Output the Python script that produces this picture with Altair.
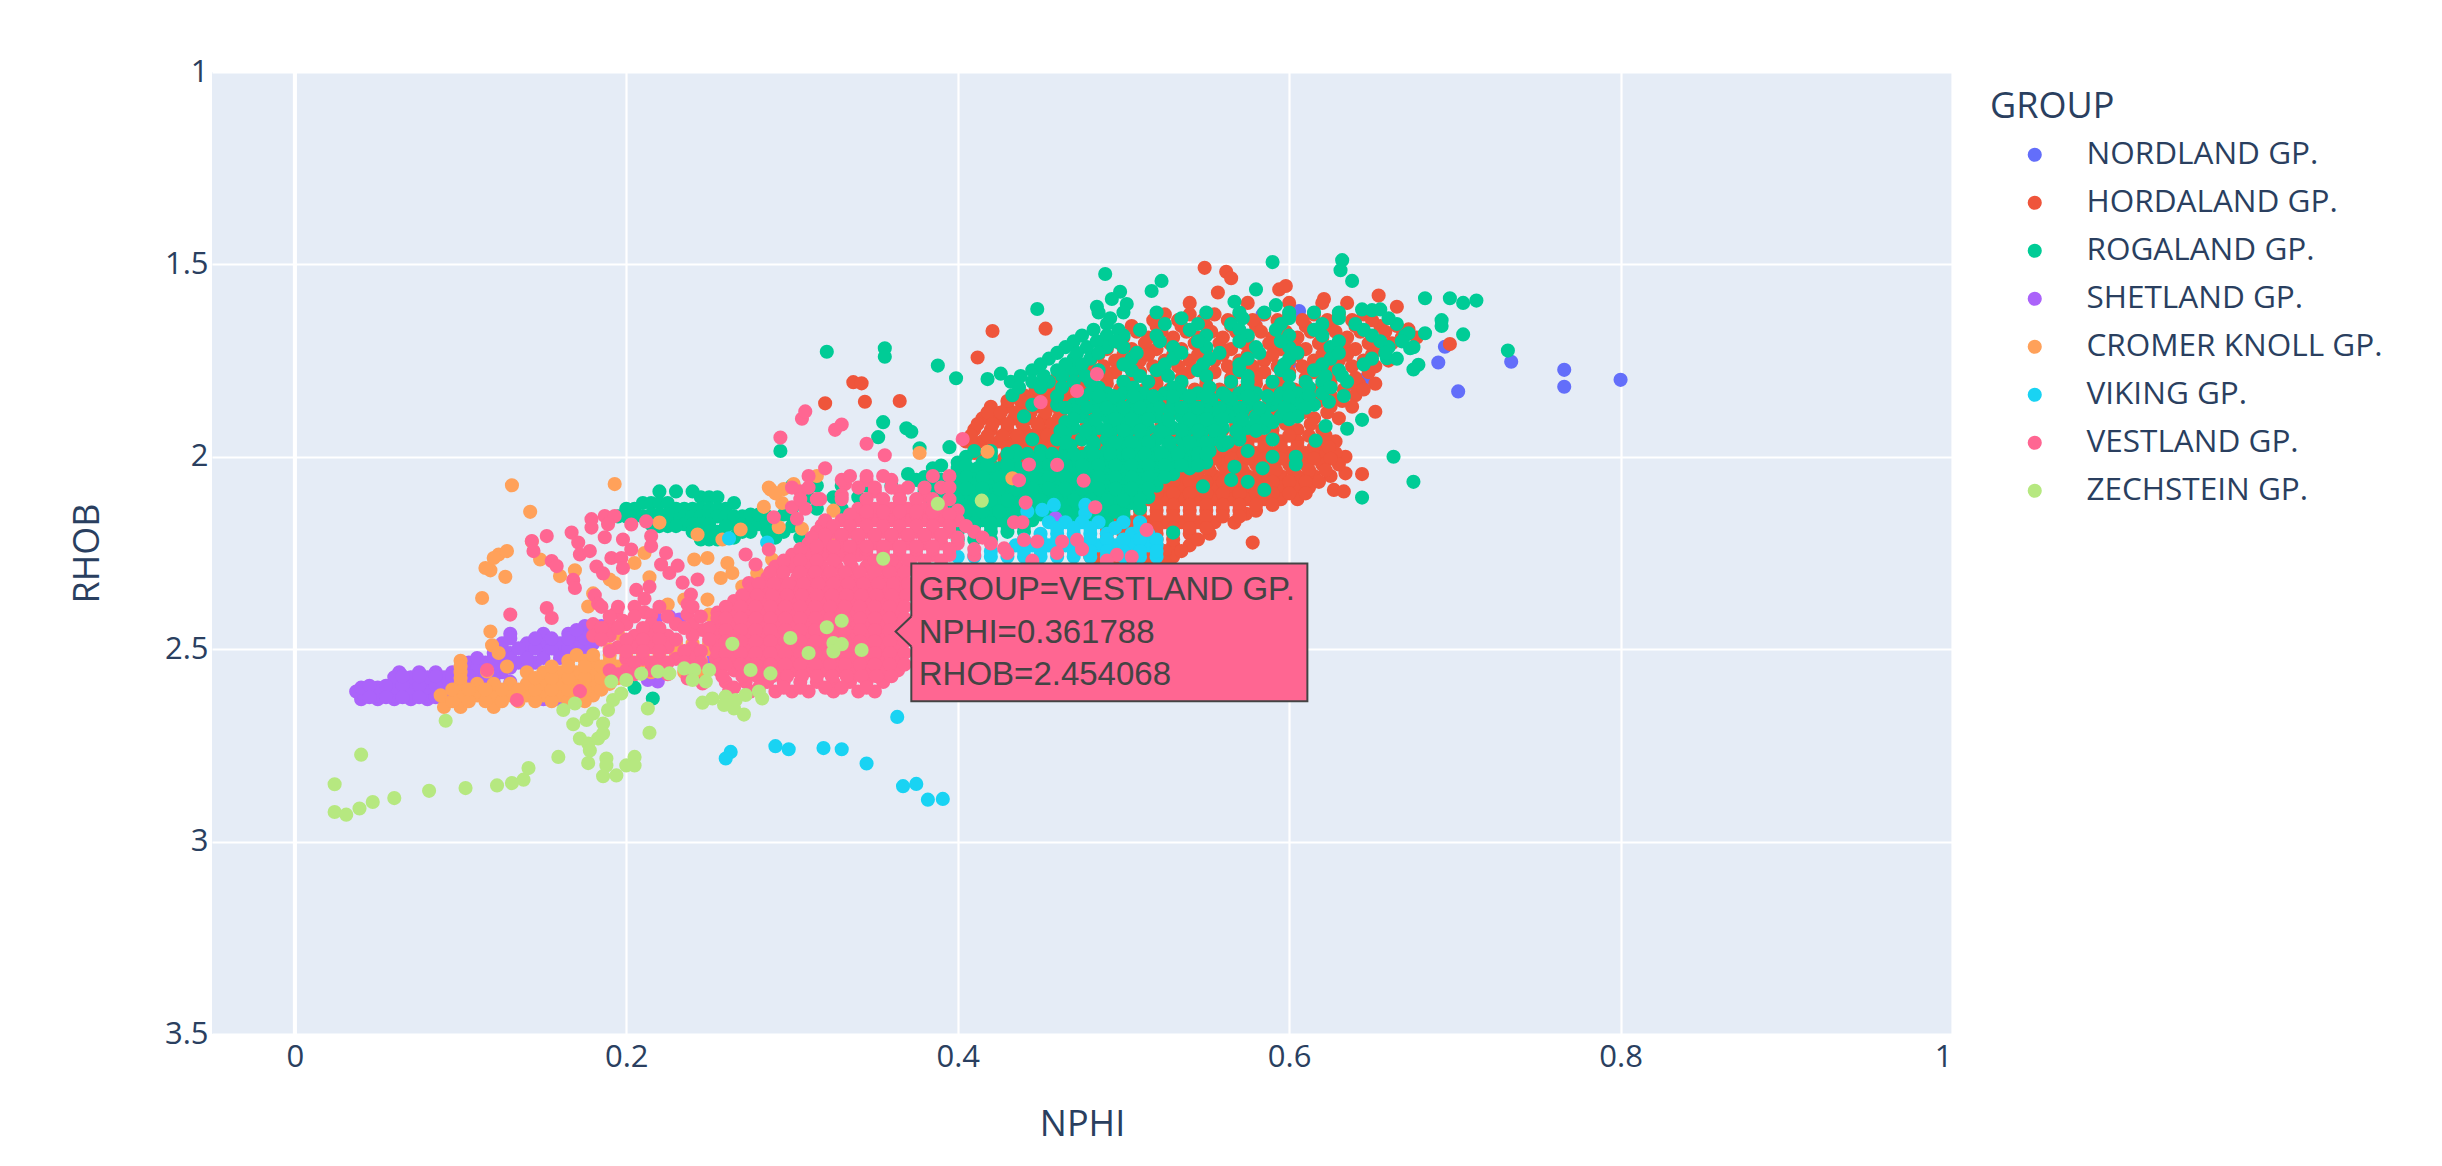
import altair as alt
import pandas as pd

GROUPS = ["NORDLAND GP.", "HORDALAND GP.", "ROGALAND GP.", "SHETLAND GP.",
          "CROMER KNOLL GP.", "VIKING GP.", "VESTLAND GP.", "ZECHSTEIN GP."]
COLORS = ["#636EFA", "#EF553B", "#00CC96", "#AB63FA", "#FFA15A", "#19D3F3", "#FF6692", "#B6E880"]
X_TICKS = [0, 0.2, 0.4, 0.6, 0.8, 1]
Y_TICKS = [1, 1.5, 2, 2.5, 3, 3.5]

NORDLAND_POINTS = [(.8,1.8),(.766,1.774),(.766,1.818),(.702,1.83),(.734,1.753),(.69,1.755),(.694,1.714),
    (.606,1.621),(.584,1.63),(.64,1.813),(.62,1.787),(.6,1.76),(.645,1.8)]

HORDALAND_POINTS = [(.549,1.509),(.562,1.519),(.565,1.536),(.557,1.573),(.594,1.565),(.598,1.556),(.621,1.59),
    (.654,1.581),(.665,1.61),(.421,1.673),(.453,1.667),(.412,1.742),(.337,1.806),(.342,1.809),(.32,1.861),
    (.344,1.857),(.365,1.855),(.652,1.883),(.642,1.809),(.697,1.707),(.672,1.669),(.634,2.0),(.644,2.045),
    (.634,2.043),(.627,2.086),(.633,2.09),(.578,2.223),(.567,2.171),(.574,2.148),(.365,2.11)]
HORDALAND_ROWS = {
    1.60: [.54,.575,.60,.62,.635],
    1.63: [.525,.54,.555,.57,.585,.60,.615,.63,.645],
    1.66: [.505,.52,.535,.55,.565,.58,.595,.61,.625,.64,.655,.665],
    1.69: [.50,.515,.53,.545,.56,.575,.59,.605,.62,.635,.65,.668,.677],
    1.72: [.49,.505,.52,.535,.55,.565,.58,.595,.61,.625,.64,.655],
    1.75: [.48,.495,.51,.525,.54,.555,.57,.585,.60,.615,.63,.645,.66],
    1.78: [.465,.48,.495,.51,.525,.54,.555,.57,.585,.60,.615,.63,.648],
    1.81: [.452,.462,.475,.49,.505,.52,.535,.55,.565,.58,.595,.61,.625,.64,.652],
    1.84: [.44,.45,.46,.47,.48,.49,.505,.52,.535,.55,.565,.58,.595,.61,.625,.64],
    1.87: [.42,.43,.44,.45,.46,.47,.48,.49,.505,.52,.535,.55,.565,.58,.595,.61,.625,.638],
    1.90: [.415,.425,.434,.443,.452,.461,.47,.48,.495,.51,.525,.54,.555,.57,.585,.60,.615,.63],
    1.93: [.41,.42,.43,.44,.45,.46,.47,.485,.50,.515,.53,.545,.56,.575,.59,.605,.62],
    1.96: [.405,.415,.425,.434,.443,.452,.461,.47,.485,.50,.515,.53,.545,.56,.575,.585,.595,.605,.618,.628],
    1.99: [.41,.42,.43,.44,.45,.46,.475,.49,.505,.52,.535,.55,.56,.57,.58,.59,.60,.61,.62,.628],
    2.02: [.42,.435,.45,.465,.48,.495,.51,.525,.54,.55,.56,.57,.58,.59,.60,.61,.62,.63],
    2.05: [.44,.46,.48,.50,.515,.525,.535,.545,.555,.565,.575,.585,.595,.605,.615,.625],
    2.08: [.50,.515,.525,.535,.545,.555,.565,.575,.585,.595,.605,.612],
    2.11: [.505,.515,.525,.535,.545,.555,.565,.575,.585,.595,.605],
    2.14: [.50,.51,.52,.53,.54,.55,.56,.57,.58],
    2.17: [.495,.505,.515,.525,.535,.545,.555],
    2.20: [.49,.50,.51,.52,.53,.54,.552],
    2.23: [.49,.50,.51,.52,.53,.54],
    2.26: [.48,.49,.50,.51,.52,.53],
    2.29: [.49,.50,.51,.52],
}
HORDALAND_FILL = {
    1.645: [.518,.533,.548,.563,.578,.593,.608,.623,.638,.65],
    1.675: [.508,.523,.538,.553,.568,.583,.598,.613,.628,.643,.658,.672],
    1.705: [.498,.513,.528,.543,.558,.573,.588,.603,.618,.633,.648,.662],
    1.735: [.485,.50,.515,.53,.545,.56,.575,.59,.605,.62,.635,.65],
    1.765: [.473,.488,.503,.518,.533,.548,.563,.578,.593,.608,.623,.638,.652],
    1.795: [.46,.475,.49,.505,.52,.535,.55,.565,.58,.595,.61,.625,.64],
    1.825: [.447,.456,.465,.475,.485,.498,.513,.528,.543,.558,.573,.588,.603,.618,.633,.645],
    1.855: [.43,.438,.446,.455,.464,.473,.483,.498,.513,.528,.543,.558,.573,.588,.603,.618,.632],
    1.885: [.418,.426,.435,.444,.453,.462,.472,.488,.503,.518,.533,.548,.563,.578,.593,.608,.623],
    1.915: [.412,.421,.43,.439,.448,.457,.466,.478,.493,.508,.523,.538,.553,.568,.583,.598,.613],
    1.945: [.408,.418,.427,.436,.445,.454,.463,.478,.493,.508,.523,.538,.553,.568,.58,.59,.60,.612,.622],
    1.975: [.41,.42,.43,.438,.447,.456,.468,.483,.498,.513,.528,.543,.555,.565,.575,.585,.595,.605,.615,.624],
    2.005: [.415,.428,.442,.457,.473,.488,.503,.518,.533,.545,.555,.565,.575,.585,.595,.605,.615,.625],
    2.035: [.43,.45,.47,.49,.51,.522,.532,.542,.552,.562,.572,.582,.592,.602,.612,.622],
    2.065: [.51,.52,.53,.54,.55,.56,.57,.58,.59,.60,.61,.618],
    2.095: [.51,.52,.53,.54,.55,.56,.57,.58,.59,.60,.61],
    2.125: [.50,.51,.52,.53,.54,.55,.56,.57,.58,.59],
    2.155: [.50,.51,.52,.53,.54,.55,.56,.57],
    2.185: [.49,.50,.51,.52,.53,.54,.55],
    2.215: [.49,.50,.51,.52,.53,.545],
    2.245: [.485,.495,.505,.515,.525,.535],
    2.275: [.485,.495,.505,.515,.525],
}

ROGALAND_POINTS = [(.321,1.727),(.356,1.718),(.356,1.74),(.388,1.763),(.399,1.796),(.418,1.798),(.426,1.784),
    (.355,1.91),(.369,1.926),(.352,1.949),(.377,1.978),(.489,1.525),(.523,1.543),(.517,1.569),(.498,1.571),
    (.493,1.59),(.502,1.603),(.484,1.61),(.448,1.616),(.59,1.494),(.632,1.489),(.631,1.515),(.638,1.543),
    (.58,1.565),(.567,1.597),(.592,1.606),(.682,1.588),(.697,1.588),(.705,1.60),(.713,1.594),(.644,1.617),
    (.65,1.619),(.655,1.617),(.732,1.724),(.692,1.645),(.692,1.66),(.705,1.682),(.682,1.679),(.672,1.679),
    (.673,1.718),(.678,1.761),(.675,1.773),(.659,1.744),(.663,2.0),(.675,2.065),(.644,2.106),(.644,1.904),
    (.635,1.927),(.622,1.92),(.616,1.958),(.633,1.842),(.624,1.857),(.205,2.6),(.216,2.628),(.53,2.197),
    (.293,1.985),(.372,1.935),(.395,1.975),(.406,2.03),(.445,1.865),(.44,1.895),(.445,1.955),(.433,1.84),
    (.567,2.026),(.584,2.03),(.548,2.077),(.565,2.06),(.575,2.065),(.585,2.086),(.59,2.0),(.604,2.0),(.604,2.02)]
ROGALAND_ROWS = {
    1.625: [.485,.50,.52,.55,.57,.585,.60,.615,.63],
    1.655: [.49,.525,.545,.565,.595,.62,.64,.665],
    1.685: [.475,.49,.50,.52,.55,.575,.60,.62,.65,.67],
    1.715: [.465,.478,.49,.50,.53,.55,.58,.60,.625,.66,.675],
    1.745: [.455,.47,.48,.505,.53,.552,.575,.60,.625,.65,.665],
    1.775: [.445,.46,.47,.485,.505,.52,.545,.57,.595,.615,.63],
    1.805: [.432,.445,.455,.47,.48,.50,.515,.535,.565,.575,.59,.61,.62,.635],
    1.835: [.48,.49,.50,.512,.525,.535,.545,.56,.57,.58,.595,.605,.62],
    1.865: [.46,.47,.483,.495,.505,.515,.53,.54,.55,.565,.575,.59,.605,.615],
    1.895: [.475,.49,.50,.51,.52,.535,.545,.555,.565,.58,.595,.605],
    1.925: [.47,.485,.495,.505,.515,.53,.54,.55,.56,.575,.585],
    1.955: [.46,.475,.49,.50,.51,.52,.535,.545,.555,.57,.59],
    1.985: [.41,.42,.435,.45,.465,.48,.49,.50,.51,.52,.53,.54,.552,.575],
    2.015: [.40,.415,.43,.445,.46,.47,.48,.49,.50,.51,.52,.53,.54,.55],
    2.045: [.37,.385,.40,.41,.42,.43,.44,.45,.46,.47,.48,.49,.50,.51,.52,.53],
    2.075: [.30,.315,.33,.345,.36,.38,.39,.40,.41,.42,.43,.44,.45,.46,.47,.48,.49,.50,.51,.52],
    2.105: [.31,.325,.34,.385,.395,.405,.415,.425,.435,.445,.455,.465,.475,.485,.495,.505,.515,.245,.25,.255],
    2.135: [.20,.205,.23,.235,.24,.245,.25,.255,.26,.30,.315,.33,.39,.40,.41,.42,.43,.44,.45,.46,.47,.48,.49,.50,.51],
    2.155: [.195,.20,.205,.21,.23,.235,.24,.245,.25,.255,.26,.265,.27,.285,.30],
    2.165: [.395,.405,.415,.425,.43,.445,.47,.48,.49,.50],
    2.175: [.215,.235,.24,.245,.25,.265,.27,.275,.28,.285,.29],
    2.195: [.24,.245,.25,.255,.27,.275,.285,.295,.40,.41,.42,.43,.44],
    2.215: [.245,.25,.255,.40,.41,.42],
}
ROGALAND_FILL = {
    1.64: [.492,.535,.572,.60,.63,.66],
    1.67: [.482,.497,.51,.54,.57,.592,.615,.645],
    1.70: [.47,.484,.495,.522,.545,.57,.595,.63,.655,.668],
    1.73: [.46,.472,.485,.508,.535,.558,.582,.605,.63,.658],
    1.76: [.45,.465,.475,.50,.525,.548,.57,.597,.62,.645],
    1.79: [.438,.452,.463,.477,.51,.527,.55,.575,.60,.622,.632],
    1.82: [.437,.45,.463,.485,.506,.53,.552,.575,.60,.612,.625],
    1.85: [.475,.487,.497,.508,.52,.53,.54,.553,.565,.578,.592,.60,.61],
    1.88: [.47,.485,.497,.507,.517,.528,.54,.55,.56,.572,.585,.60],
    1.91: [.465,.48,.492,.502,.512,.525,.537,.547,.557,.57,.58,.59],
    1.94: [.465,.48,.492,.502,.512,.525,.537,.547,.558,.57],
    1.97: [.468,.482,.493,.503,.515,.527,.537,.547,.56],
    2.00: [.405,.42,.435,.45,.463,.475,.485,.495,.505,.515,.525,.535,.545],
    2.03: [.385,.40,.412,.425,.437,.45,.46,.47,.48,.49,.50,.51,.52,.53,.54],
    2.06: [.375,.39,.40,.41,.42,.43,.44,.45,.46,.47,.48,.49,.50,.51,.52],
    2.09: [.38,.39,.40,.41,.42,.43,.44,.45,.46,.47,.48,.49,.50,.51,.22,.23,.24],
    2.12: [.385,.395,.405,.415,.425,.435,.445,.455,.465,.475,.485,.495,.505,.21,.215,.22,.225,.265],
    2.15: [.39,.40,.41,.42,.43,.44,.45,.46,.47,.48,.49,.50,.215,.22,.225,.275,.28,.295],
    2.18: [.40,.41,.42,.43,.44,.22,.225,.23,.26,.30],
    2.21: [.26,.265,.29,.305,.32,.34],
}
ROGALAND_EXTRA = {
    1.8425: [.46,.485,.494,.506,.518,.53,.54,.55,.562,.575,.587,.60,.612],
    1.8725: [.465,.478,.49,.50,.51,.522,.535,.545,.558,.57,.582,.597,.61],
    1.9025: [.47,.483,.495,.505,.515,.527,.54,.55,.56,.572,.587,.60],
    1.9325: [.462,.477,.49,.50,.51,.522,.535,.545,.555,.568,.58],
    1.9625: [.465,.482,.495,.505,.515,.528,.54,.55,.563],
    1.9925: [.43,.442,.457,.47,.482,.492,.503,.513,.523,.533,.545,.55],
    2.0225: [.39,.405,.418,.43,.443,.455,.465,.475,.485,.495,.505,.515,.525,.535,.545],
    2.0525: [.38,.395,.405,.415,.425,.435,.445,.455,.465,.475,.485,.495,.505,.515,.525],
    2.0825: [.385,.395,.405,.415,.425,.435,.445,.455,.465,.475,.485,.495,.505,.515],
    2.1125: [.39,.40,.41,.42,.43,.44,.45,.46,.47,.48,.49,.50,.51],
    2.1425: [.395,.405,.415,.425,.435,.445,.455,.465,.475,.485,.495],
    2.1725: [.40,.41,.42,.43,.44,.47,.48,.49],
}

SHETLAND_POINTS = [(.226,2.415),(.218,2.419),(.232,2.423),(.219,2.584),(.213,2.58),(.252,2.528),(.252,2.415),(.459,2.16)]
SHETLAND_ROWS = {
    2.63: [.04,.05,.06,.07,.08,.15,.16,.17],
    2.61: [.037,.045,.055,.065,.075,.085,.095,.145,.155,.165,.175],
    2.585: [.06,.07,.08,.09,.10,.11,.12,.13],
    2.56: [.063,.075,.085,.095,.105,.115,.125],
    2.535: [.105,.115,.125,.135,.145],
    2.51: [.12,.13,.14,.15,.16,.17],
    2.485: [.125,.14,.15,.16,.17,.18],
    2.46: [.13,.15,.165,.17,.18],
    2.44: [.175,.18,.185,.19],
}
SHETLAND_FILL = {
    2.62: [.042,.05,.06,.07,.08,.09],
    2.60: [.04,.05,.06,.07,.08,.09,.10],
    2.573: [.06,.07,.08,.09,.10,.11,.12],
    2.548: [.10,.11,.12,.13,.14],
    2.523: [.11,.12,.13,.14,.15,.16],
    2.498: [.125,.135,.145,.155,.165,.175],
    2.472: [.13,.145,.155,.165,.175,.18],
    2.45: [.17,.18,.185],
    2.595: [.045,.055,.065,.075,.085,.095],
    2.625: [.045,.055,.065,.075,.085],
    2.57: [.065,.075,.085,.095,.105,.115],
}

CROMER_POINTS = [(.119,2.49),(.123,2.51),(.128,2.545),(.116,2.558),(.118,2.454),(.113,2.367),(.127,2.312),(.118,2.295),
    (.115,2.289),(.123,2.254),(.128,2.245),(.12,2.263),(.142,2.143),(.131,2.074),(.193,2.071),(.143,2.22),(.148,2.267),
    (.16,2.31),(.169,2.295),(.19,2.319),(.193,2.328),(.205,2.276),(.211,2.25),(.18,2.355),(.177,2.389),(.214,2.313),
    (.225,2.384),(.235,2.371),(.241,2.267),(.249,2.263),(.261,2.276),(.257,2.315),(.264,2.302),(.249,2.371),(.27,2.337),
    (.279,2.302),(.288,2.267),(.243,2.202),(.258,2.215),(.269,2.189),(.22,2.171),(.286,2.08),(.295,2.084),(.301,2.071),
    (.283,2.13),(.294,2.12),(.292,2.183),(.306,2.187),(.325,2.14),(.324,2.205),(.315,2.05),(.377,1.99),(.418,1.987),
    (.433,2.056),(.287,2.085),(.29,2.095),(.268,2.43),(.25,2.41),(.24,2.44),(.218,2.46),(.195,2.46)]
CROMER_ROWS = {
    2.65: [.09,.10,.12],
    2.62: [.088,.10,.11,.12,.13,.14,.15,.16,.17,.18],
    2.59: [.10,.11,.12,.13,.14,.15,.16,.17,.18,.19],
    2.56: [.10,.14,.15,.16,.17,.18,.19,.20,.215,.235,.245],
    2.53: [.10,.165,.175,.18,.19,.20,.21,.22,.235,.245],
    2.50: [.19,.20,.21,.22,.23,.24,.25],
}
CROMER_FILL = {
    2.635: [.095,.105,.115,.125,.135,.145,.155,.165,.175],
    2.605: [.095,.105,.115,.125,.135,.145,.155,.165,.175,.185],
    2.575: [.10,.145,.155,.165,.175,.185,.195],
    2.545: [.10,.155,.165,.175,.185,.195,.205,.22,.24],
    2.515: [.17,.18,.19,.20,.21,.22,.23,.24],
    2.485: [.20,.21,.22,.23,.24,.25],
}

VIKING_POINTS = [(.3635,2.676),(.263,2.767),(.26,2.784),(.29,2.752),(.298,2.76),(.319,2.757),(.33,2.76),(.345,2.797),
    (.367,2.856),(.375,2.85),(.382,2.891),(.391,2.889),(.262,2.212),(.285,2.223),(.442,2.142),(.451,2.138),(.458,2.125),
    (.477,2.125),(.477,2.147)]
VIKING_ROWS = {
    2.17: [.455,.465,.475,.485,.50,.51],
    2.20: [.45,.46,.47,.48,.49,.505,.515],
    2.23: [.435,.445,.455,.465,.475,.485,.495,.505,.515,.52],
    2.26: [.40,.41,.42,.43,.44,.45,.46,.47,.48,.49,.50,.51,.52],
}
VIKING_FILL = {
    2.185: [.46,.47,.48,.495,.51],
    2.215: [.44,.45,.46,.47,.48,.49,.50,.51,.52],
    2.245: [.42,.43,.44,.45,.46,.47,.48,.49,.50,.51,.52],
}

VESTLAND_POINTS = [(.116,2.554),(.134,2.632),(.172,2.609),(.13,2.41),(.152,2.393),(.155,2.419),(.152,2.206),(.143,2.219),
    (.144,2.245),(.167,2.197),(.171,2.223),(.172,2.254),(.178,2.245),(.179,2.162),(.187,2.154),(.193,2.154),(.187,2.209),
    (.179,2.184),(.189,2.175),(.203,2.176),(.212,2.168),(.215,2.206),(.215,2.232),(.198,2.215),(.203,2.241),(.191,2.263),
    (.197,2.263),(.198,2.289),(.155,2.271),(.158,2.284),(.182,2.285),(.186,2.303),(.168,2.32),(.169,2.341),(.224,2.25),
    (.221,2.28),(.226,2.302),(.231,2.283),(.234,2.327),(.243,2.319),(.239,2.358),(.206,2.346),(.214,2.338),(.211,2.369),
    (.181,2.36),(.183,2.382),(.194,2.404),(.198,2.426),(.211,2.404),(.215,2.412),(.237,2.383),(.237,2.409),(.246,2.45),
    (.237,2.576),(.246,2.589),(.272,2.254),(.286,2.241),(.278,2.28),(.274,2.328),(.289,2.157),(.3,2.131),(.308,2.135),
    (.303,2.161),(.318,2.178),(.317,2.11),(.332,2.071),(.293,1.95),(.306,1.901),(.308,1.882),(.326,1.93),(.33,1.916),
    (.345,1.966),(.356,1.996),(.403,1.954),(.472,1.829),(.484,1.785),(.45,1.858),(.443,2.02),(.46,2.021),(.476,2.062),
    (.437,2.061),(.441,2.119),(.483,2.131),(.514,2.19),(.3235,2.603),(.428,2.238),(.44,2.216),(.448,2.22),(.463,2.22),
    (.472,2.216),(.496,2.255),(.434,2.17),(.439,2.17),(.305,2.09),(.31,2.05),(.32,2.03),(.33,2.06),(.345,2.06),(.36,2.06),
    (.35,2.09),(.365,2.09),(.33,2.10),(.38,2.10),(.40,2.14),(.43,2.25),(.445,2.27),(.46,2.25),(.475,2.24),(.49,2.27),(.505,2.26)]
VESTLAND_ROWS = {
    2.135: [.34,.35,.36,.37,.38,.39],
    2.165: [.32,.33,.34,.35,.36,.37,.38,.39,.40],
    2.195: [.315,.325,.335,.345,.355,.365,.375,.385,.395,.41],
    2.225: [.31,.32,.33,.34,.35,.36,.37,.38,.39,.40,.42],
    2.255: [.30,.31,.32,.33,.34,.345,.355,.365,.375,.385,.395,.41],
    2.285: [.29,.30,.31,.318,.327,.336,.345,.354,.363,.372],
    2.315: [.285,.294,.303,.312,.321,.33,.339,.348,.357,.366],
    2.345: [.275,.284,.293,.302,.311,.32,.329,.338,.347,.356,.365],
    2.375: [.265,.274,.283,.292,.301,.31,.319,.328,.337,.346,.355,.364],
    2.405: [.255,.264,.273,.282,.291,.30,.309,.318,.327,.336,.345,.354,.363],
    2.435: [.255,.264,.273,.282,.291,.30,.309,.318,.327,.336,.345,.354,.363,.18,.19,.20,.215,.23,.24],
    2.465: [.254,.263,.272,.281,.29,.299,.308,.317,.326,.335,.344,.353,.362,.18,.19,.205,.215,.225,.24],
    2.495: [.254,.263,.272,.281,.29,.299,.308,.317,.326,.335,.344,.353,.362,.195,.205,.215,.225,.24],
    2.525: [.254,.263,.272,.281,.29,.299,.308,.317,.326,.335,.344,.353,.362,.20,.21,.22,.23,.24],
    2.555: [.256,.265,.274,.283,.292,.301,.31,.319,.328,.337,.346,.355,.364,.19,.20,.215],
    2.585: [.26,.272,.285,.295,.305,.315,.325,.335,.345,.355],
    2.61: [.262,.275,.29,.30,.31,.325,.34,.35],
}
VESTLAND_FILL = {
    2.15: [.335,.345,.355,.365,.375,.385,.395],
    2.18: [.325,.335,.345,.355,.365,.375,.385,.395,.405],
    2.21: [.312,.32,.33,.34,.35,.36,.37,.38,.39,.40,.415],
    2.24: [.305,.315,.325,.335,.345,.355,.365,.375,.385,.395,.41],
    2.27: [.295,.305,.315,.325,.335,.35,.36,.37,.38,.39],
    2.30: [.287,.295,.305,.314,.323,.332,.341,.35,.359,.368],
    2.33: [.28,.289,.298,.307,.316,.325,.334,.343,.352,.361,.37],
    2.36: [.27,.279,.288,.297,.306,.315,.324,.333,.342,.351,.36,.369],
    2.39: [.26,.269,.278,.287,.296,.305,.314,.323,.332,.341,.35,.359,.368],
    2.42: [.255,.26,.269,.278,.287,.296,.305,.314,.323,.332,.341,.35,.359,.368],
    2.45: [.255,.26,.269,.278,.287,.296,.305,.314,.323,.332,.341,.35,.359,.368],
    2.48: [.255,.26,.269,.278,.287,.296,.305,.314,.323,.332,.341,.35,.359,.368],
    2.51: [.255,.26,.269,.278,.287,.296,.305,.314,.323,.332,.341,.35,.359,.368],
    2.54: [.256,.26,.269,.278,.287,.296,.305,.314,.323,.332,.341,.35,.359,.368],
    2.57: [.258,.27,.279,.288,.297,.306,.315,.324,.333,.342,.351,.36],
    2.60: [.265,.28,.295,.305,.32,.33,.345],
}
VESTLAND_EXTRA = {
    2.05: [.335,.345,.355,.385,.395],
    2.08: [.30,.31,.34,.35,.36,.37,.38,.39,.395],
    2.11: [.305,.315,.33,.345,.355,.365,.375,.385,.395],
    2.1425: [.345,.355,.365,.375,.385],
    2.2025: [.32,.33,.34,.35,.36,.37,.38,.39],
    2.2325: [.315,.325,.335,.345,.355,.365,.375,.385],
    2.39: [.185,.195,.205,.22,.24],
    2.415: [.19,.205,.225,.245],
    2.445: [.185,.195,.21,.22,.235,.25],
    2.475: [.185,.20,.21,.22,.23,.25],
    2.505: [.19,.20,.21,.22,.235,.245],
    2.535: [.205,.215,.225,.235,.245],
    2.565: [.195,.205,.225],
}

ZECHSTEIN_POINTS = [(.091,2.686),(.04,2.774),(.024,2.851),(.024,2.923),(.031,2.93),(.039,2.914),(.047,2.897),(.06,2.887),
    (.081,2.868),(.103,2.861),(.122,2.854),(.131,2.848),(.138,2.839),(.141,2.809),(.159,2.78),(.162,2.658),(.169,2.641),
    (.168,2.695),(.176,2.684),(.172,2.732),(.177,2.745),(.183,2.732),(.186,2.693),(.189,2.658),(.192,2.632),(.197,2.615),
    (.191,2.584),(.2,2.58),(.177,2.796),(.188,2.784),(.188,2.802),(.186,2.83),(.194,2.828),(.2,2.802),(.205,2.78),
    (.205,2.802),(.178,2.763),(.186,2.719),(.18,2.667),(.213,2.654),(.214,2.717),(.209,2.564),(.219,2.558),(.226,2.563),
    (.235,2.55),(.241,2.554),(.25,2.554),(.248,2.584),(.24,2.58),(.246,2.639),(.252,2.628),(.26,2.623),(.259,2.645),
    (.265,2.654),(.271,2.67),(.266,2.632),(.272,2.619),(.28,2.61),(.282,2.628),(.264,2.486),(.275,2.554),(.287,2.563),
    (.299,2.471),(.31,2.51),(.321,2.443),(.33,2.426),(.325,2.484),(.33,2.487),(.342,2.502),(.355,2.265),(.388,2.122),
    (.4145,2.114),(.325,2.506)]

GROUP_POINTS = [NORDLAND_POINTS, HORDALAND_POINTS, ROGALAND_POINTS, SHETLAND_POINTS,
                CROMER_POINTS, VIKING_POINTS, VESTLAND_POINTS, ZECHSTEIN_POINTS]
GROUP_ROWS = [[], [HORDALAND_ROWS, HORDALAND_FILL], [ROGALAND_ROWS, ROGALAND_FILL, ROGALAND_EXTRA], [SHETLAND_ROWS, SHETLAND_FILL],
              [CROMER_ROWS, CROMER_FILL], [VIKING_ROWS, VIKING_FILL], [VESTLAND_ROWS, VESTLAND_FILL, VESTLAND_EXTRA], []]

TOOLTIP_LINES = ["GROUP=VESTLAND GP.", "NPHI=0.361788", "RHOB=2.454068"]
TOOLTIP_RHOB = [2.347, 2.458, 2.568]
TOOLTIP_NPHI = 0.3765
TOOLTIP_BOX = [dict(x=.372, x2=.611, y=2.277, y2=2.635)]
ARROW = [dict(x=.3625, y=2.454, y2=2.454), dict(x=.372, y=2.415, y2=2.493), dict(x=.3735, y=2.415, y2=2.493)]
ARROW_EDGE = [dict(x=.372, y=2.415, k=0), dict(x=.3625, y=2.454, k=1), dict(x=.372, y=2.493, k=2)]
ZERO_LINE = [dict(x=0)]

records = []
for name, pts, blocks in zip(GROUPS, GROUP_POINTS, GROUP_ROWS):
    records += [dict(GROUP=name, NPHI=a, RHOB=b) for a, b in pts]
    for rows in blocks:
        records += [dict(GROUP=name, NPHI=a, RHOB=r) for r, vals in rows.items() for a in vals]
df = pd.DataFrame(records)

FONT = "Open Sans"
INK = "#2a3f5f"
PINK = "#FF6692"

x_scale = alt.Scale(domain=[-0.05, 1.0], nice=False, zero=False)
y_scale = alt.Scale(domain=[3.5, 1], nice=False, zero=False)
x_enc = alt.X("NPHI:Q", scale=x_scale, axis=alt.Axis(
    values=X_TICKS, format="~g", grid=True, gridColor="white", gridWidth=2.2, ticks=False, domain=False,
    labelFont=FONT, labelFontSize=31, labelColor=INK, labelPadding=8, title="NPHI",
    titleFont=FONT, titleFontSize=36, titleFontWeight="normal", titleColor=INK, titlePadding=35))
y_enc = alt.Y("RHOB:Q", scale=y_scale, axis=alt.Axis(
    values=Y_TICKS, format="~g", grid=True, gridColor="white", gridWidth=2.2, ticks=False, domain=False,
    labelFont=FONT, labelFontSize=31, labelColor=INK, labelPadding=4, title="RHOB",
    titleFont=FONT, titleFontSize=36, titleFontWeight="normal", titleColor=INK, titlePadding=58))

zero = alt.Chart(pd.DataFrame(ZERO_LINE)).mark_rule(color="white", strokeWidth=4).encode(x=alt.X("x:Q", scale=x_scale))

points = alt.Chart(df).mark_circle(size=200, opacity=1).encode(
    x=x_enc, y=y_enc,
    color=alt.Color("GROUP:N", sort=GROUPS, scale=alt.Scale(domain=GROUPS, range=COLORS),
                    legend=alt.Legend(orient="none", legendX=1778, legendY=18, title="GROUP",
                                      titleFont=FONT, titleFontSize=36, titleFontWeight="normal", titleColor=INK,
                                      titlePadding=5, labelFont=FONT, labelFontSize=31.5, labelColor=INK,
                                      symbolSize=200, symbolType="circle", symbolStrokeWidth=0, symbolOpacity=1,
                                      symbolOffset=29, labelOffset=36, rowPadding=0, clipHeight=47.5,
                                      labelLimit=400)))

box = alt.Chart(pd.DataFrame(TOOLTIP_BOX)).mark_rect(fill=PINK, stroke="#444444", strokeWidth=2).encode(
    x=alt.X("x:Q", scale=x_scale), x2="x2:Q", y=alt.Y("y:Q", scale=y_scale), y2="y2:Q")
arrow_fill = alt.Chart(pd.DataFrame(ARROW)).mark_area(fill=PINK, orient="vertical").encode(
    x=alt.X("x:Q", scale=x_scale), y=alt.Y("y:Q", scale=y_scale), y2="y2:Q")
arrow_edge = alt.Chart(pd.DataFrame(ARROW_EDGE)).mark_line(color="#444444", strokeWidth=2).encode(
    x=alt.X("x:Q", scale=x_scale), y=alt.Y("y:Q", scale=y_scale), order="k:Q")
labels = alt.Chart(pd.DataFrame({"t": TOOLTIP_LINES, "y": TOOLTIP_RHOB, "x": [TOOLTIP_NPHI] * 3})).mark_text(
    font="Liberation Sans", fontSize=33, color="#444444", align="left", baseline="middle").encode(
    x=alt.X("x:Q", scale=x_scale), y=alt.Y("y:Q", scale=y_scale), text="t:N")

chart = alt.layer(zero, points, box, arrow_fill, arrow_edge, labels).resolve_scale(
    x="shared", y="shared"
).properties(
    width=1740, height=962, autosize=alt.AutoSizeParams(type="none"),
    padding={"left": 204, "top": 64, "right": 470, "bottom": 120},
    background="white",
).configure_view(fill="#E5ECF6", stroke=None)

chart.save("out.html", embed_options={"renderer": "svg", "actions": False})
